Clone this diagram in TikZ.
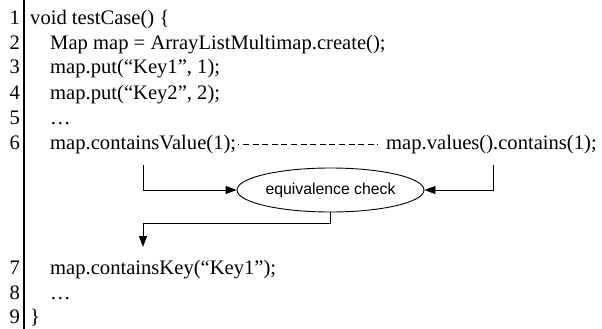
\documentclass[tikz,border=0pt]{standalone}
\usepackage{fontspec}
\setmainfont{Liberation Serif}
\newfontfamily\chkfont{Liberation Sans}
\usetikzlibrary{shapes.geometric,arrows.meta}

\begin{document}
\begin{tikzpicture}
[x=1pt, y=-1pt,
 code/.style={anchor=base west, inner sep=0pt, font=\fontsize{20.6}{24}\selectfont},
 num/.style={anchor=base east, inner sep=0pt, font=\fontsize{20.6}{24}\selectfont},
 flow/.style={-{Triangle[length=11pt,width=8pt]}, line width=0.9pt},
 check/.style={ellipse, draw, line width=0.9pt, inner sep=0pt,
   minimum width=187pt, minimum height=44pt, font=\chkfont\fontsize{15.8}{18}\selectfont}]
\useasboundingbox (0,0) rectangle (602,329);
\draw [line width=1.3pt] (24,0) -- (24,329);

\foreach \i/\y in {1/25, 2/50, 3/74, 4/99, 5/124, 6/149, 7/274, 8/299, 9/323}{
	\node [num] (n\i) at (20,\y) {\i};
}

\node [code] (l1) at (30,25) {void testCase() \{};
\node [code] (l2) at (50,50) {Map map = ArrayListMultimap.create();};
\node [code] (l3) at (50,74) {map.put(“Key1”, 1);};
\node [code] (l4) at (50,99) {map.put(“Key2”, 2);};
\node [code] (l5) at (50,124) {…};
\node [code] (l6) at (50,149) {map.containsValue(1);};
\node [code] (l6v) at (386,149) {map.values().contains(1);};
\node [code] (l7) at (50,274) {map.containsKey(“Key1”);};
\node [code] (l8) at (50,299) {…};
\node [code] (l9) at (30,323) {\}};

\draw [line width=0.8pt, dash pattern=on 6pt off 3.6pt, dash phase=5pt,
  shorten <=2pt, shorten >=8pt] (l6.east) -- (l6v.west);

\node [check] (chk) at (330.5,190) {equivalence check};

\coordinate (from1) at (143,165);
\coordinate (from2) at (493,165);
\coordinate (to7) at (143,247);
\draw [flow] (from1) |- (chk.west);
\draw [flow] (from2) |- (chk.east);
\draw [flow] (chk.south) -- ++(0,11) -| (to7);
\end{tikzpicture}
\end{document}
